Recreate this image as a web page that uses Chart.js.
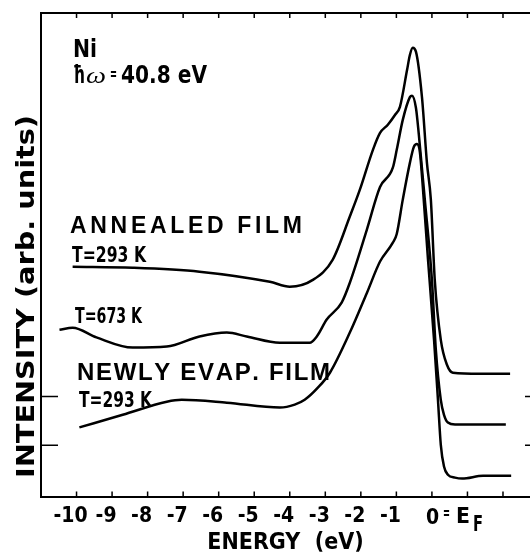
<!DOCTYPE html>
<html>
<head>
<meta charset="utf-8">
<script src="https://cdn.jsdelivr.net/npm/chart.js@4"></script>
<style>
  html, body { margin: 0; padding: 0; background: #fff; }
  #spectra { display: block; }
</style>
</head>
<body>
<canvas id="spectra" width="530" height="552"></canvas>
<script>
// photoemission spectra of Ni, hw = 40.8 eV (energies in eV, intensity arb. units 0..100)

// annealed film, T = 293 K
const annealedE = [-10.11, -8.42, -6.54, -4.56, -4.0, -3.35, -2.79, -2.31, -2.03, -1.66, -1.46, -1.24, -1.04, -0.90, -0.70, -0.62, -0.54, -0.45, -0.28, -0.14, -0.03, 0.08, 0.25, 0.42, 0.59, 1.35, 2.20];
const annealedI = [47.5, 47.3, 46.5, 44.4, 43.4, 44.8, 49.0, 57.9, 63.4, 71.7, 75.2, 76.9, 78.9, 80.6, 88.2, 91.3, 92.8, 92.0, 82.6, 69.0, 61.4, 44.8, 32.4, 27.3, 25.6, 25.4, 25.4];

// annealed film, T = 673 K
const hotE = [-10.48, -10.11, -9.44, -8.42, -7.46, -6.54, -5.77, -5.21, -4.28, -3.44, -3.24, -2.96, -2.54, -2.31, -1.83, -1.46, -1.10, -0.99, -0.82, -0.62, -0.56, -0.45, -0.37, -0.20, 0.0, 0.11, 0.25, 0.34, 0.45, 0.65, 2.08];
const hotI = [34.5, 34.9, 32.9, 30.8, 31.0, 33.1, 33.9, 33.1, 31.8, 31.8, 33.1, 36.6, 40.1, 44.2, 55.2, 64.0, 68.0, 71.7, 77.9, 82.6, 82.9, 80.4, 75.0, 61.4, 44.8, 30.4, 20.0, 16.9, 15.3, 14.9, 14.9];

// newly evaporated film, T = 293 K
const evapE = [-9.92, -8.70, -7.46, -7.04, -5.77, -4.28, -3.86, -3.58, -3.21, -2.87, -2.31, -1.83, -1.46, -1.10, -0.99, -0.82, -0.62, -0.51, -0.42, -0.34, -0.25, -0.11, 0.06, 0.17, 0.25, 0.34, 0.45, 0.65, 0.85, 1.44, 2.23];
const evapI = [14.3, 16.9, 19.6, 20.0, 19.4, 18.4, 19.0, 20.0, 22.5, 25.6, 33.9, 42.1, 48.6, 52.5, 54.3, 61.4, 69.0, 72.3, 72.9, 71.3, 63.4, 49.0, 32.4, 20.0, 10.7, 6.2, 4.5, 3.9, 3.7, 4.3, 4.3];

const energyTicks = [-10, -9, -8, -7, -6, -5, -4, -3, -2, -1, 0, 1, 2];
const levelMarks = [10.6, 20.7];
const xMin = -11.0, xMax = 2.76;

const narrow = "'Liberation Sans Narrow', 'DejaVu Sans Condensed', 'Roboto Condensed', sans-serif";

function pts(xs, ys) {
  return xs.map((v, i) => ({ x: v, y: ys[i] }));
}

// squeeze/stretch a string so it spans width w
function fitText(ctx, str, x, y, w, font) {
  ctx.font = font;
  const m = ctx.measureText(str).width;
  ctx.save();
  ctx.translate(x, y);
  ctx.scale(w / m, 1);
  ctx.fillText(str, 0, 0);
  ctx.restore();
}

// spread letters out so the string spans width w
function spacedText(ctx, str, x, y, w, font) {
  ctx.font = font;
  const widths = [...str].map(c => ctx.measureText(c).width);
  const total = widths.reduce((a, b) => a + b, 0);
  const gap = (w - total) / (str.length - 1);
  let cx = x;
  [...str].forEach((c, i) => {
    ctx.fillText(c, cx, y);
    cx += widths[i] + gap;
  });
}

const frameAndText = {
  id: 'frameAndText',
  afterDraw(chart) {
    const { ctx, chartArea: a, scales: { x, y } } = chart;
    ctx.save();
    ctx.strokeStyle = '#000';
    ctx.fillStyle = '#000';

    // left + top frame (bottom one is the x axis border)
    ctx.lineWidth = 2;
    ctx.beginPath();
    ctx.moveTo(a.right, a.top);
    ctx.lineTo(a.left, a.top);
    ctx.lineTo(a.left, a.bottom);
    ctx.stroke();

    // inward ticks top and bottom
    ctx.lineWidth = 1.5;
    energyTicks.forEach(v => {
      const px = x.getPixelForValue(v);
      ctx.beginPath();
      ctx.moveTo(px, a.bottom); ctx.lineTo(px, a.bottom - 5);
      ctx.moveTo(px, a.top); ctx.lineTo(px, a.top + 5);
      ctx.stroke();
    });
    // level marks left and right
    levelMarks.forEach(v => {
      const py = y.getPixelForValue(v);
      ctx.beginPath();
      ctx.moveTo(a.left, py); ctx.lineTo(a.left + 17, py);
      ctx.moveTo(a.right - 5, py); ctx.lineTo(a.right, py);
      ctx.stroke();
    });

    ctx.textAlign = 'left';
    ctx.textBaseline = 'alphabetic';

    // 0 = E_F label
    const x0 = x.getPixelForValue(0);
    ctx.font = 'bold 21px ' + narrow;
    ctx.fillText('0', x0 - 6, 524);
    fitText(ctx, '=', x0 + 11, 519, 7, 'bold 18px ' + narrow);
    fitText(ctx, 'E', x0 + 24, 523, 14, 'bold 22px ' + narrow);
    fitText(ctx, 'F', x0 + 41, 531, 10, 'bold 22px ' + narrow);

    // y title
    ctx.save();
    ctx.translate(34, 478);
    ctx.rotate(-Math.PI / 2);
    fitText(ctx, 'INTENSITY (arb. units)', 0, 0, 363, 'bold 25px ' + narrow);
    ctx.restore();

    // header
    fitText(ctx, 'Ni', 73, 57, 24, 'bold 24px ' + narrow);
    fitText(ctx, 'ħ', 73, 83, 12, 'bold 25px ' + narrow);
    fitText(ctx, 'ω', 86, 83, 20, "italic 24px 'Liberation Serif', serif");
    fitText(ctx, '=', 110, 80, 7, 'bold 18px ' + narrow);
    fitText(ctx, '40.8 eV', 121, 83, 86, 'bold 25px ' + narrow);

    // curve labels
    spacedText(ctx, 'ANNEALED FILM', 70, 233, 232, "bold 23px 'Liberation Sans', sans-serif");
    fitText(ctx, 'T=293 K', 72, 262, 74, 'bold 21px ' + narrow);
    fitText(ctx, 'T=673 K', 75, 323, 67, 'bold 21px ' + narrow);
    spacedText(ctx, 'NEWLY EVAP. FILM', 77, 380, 253, "bold 24px 'Liberation Sans', sans-serif");
    fitText(ctx, 'T=293 K', 79, 407, 73, 'bold 21px ' + narrow);

    ctx.restore();
  }
};

const lineStyle = {
  borderColor: '#000',
  borderWidth: 2.5,
  pointRadius: 0,
  fill: false,
  cubicInterpolationMode: 'monotone'
};

new Chart(document.getElementById('spectra'), {
  type: 'line',
  data: {
    datasets: [
      { label: 'annealed 293 K', data: pts(annealedE, annealedI), ...lineStyle },
      { label: 'annealed 673 K', data: pts(hotE, hotI), ...lineStyle },
      { label: 'newly evap. 293 K', data: pts(evapE, evapI), ...lineStyle }
    ]
  },
  options: {
    responsive: false,
    animation: false,
    layout: { padding: { left: 41, top: 13, right: 0, bottom: 0 } },
    plugins: {
      legend: { display: false },
      tooltip: { enabled: false }
    },
    scales: {
      x: {
        type: 'linear',
        min: xMin,
        max: xMax,
        afterBuildTicks: axis => { axis.ticks = energyTicks.map(v => ({ value: v })); },
        grid: { display: false, drawTicks: false },
        border: { display: true, color: '#000', width: 2 },
        ticks: {
          padding: 10,
          labelOffset: -6,
          color: '#000',
          maxRotation: 0,
          autoSkip: false,
          font: { family: narrow, size: 21, weight: 'bold', lineHeight: 1 },
          callback: v => (v < 0 ? String(v) : '')
        },
        title: {
          display: true,
          text: 'ENERGY  (eV)',
          color: '#000',
          font: { family: narrow, size: 23, weight: 'bold', lineHeight: 0.5 },
          padding: { top: 0, bottom: 3 }
        }
      },
      y: { display: false, min: 0, max: 100 }
    }
  },
  plugins: [frameAndText]
});
</script>
</body>
</html>
